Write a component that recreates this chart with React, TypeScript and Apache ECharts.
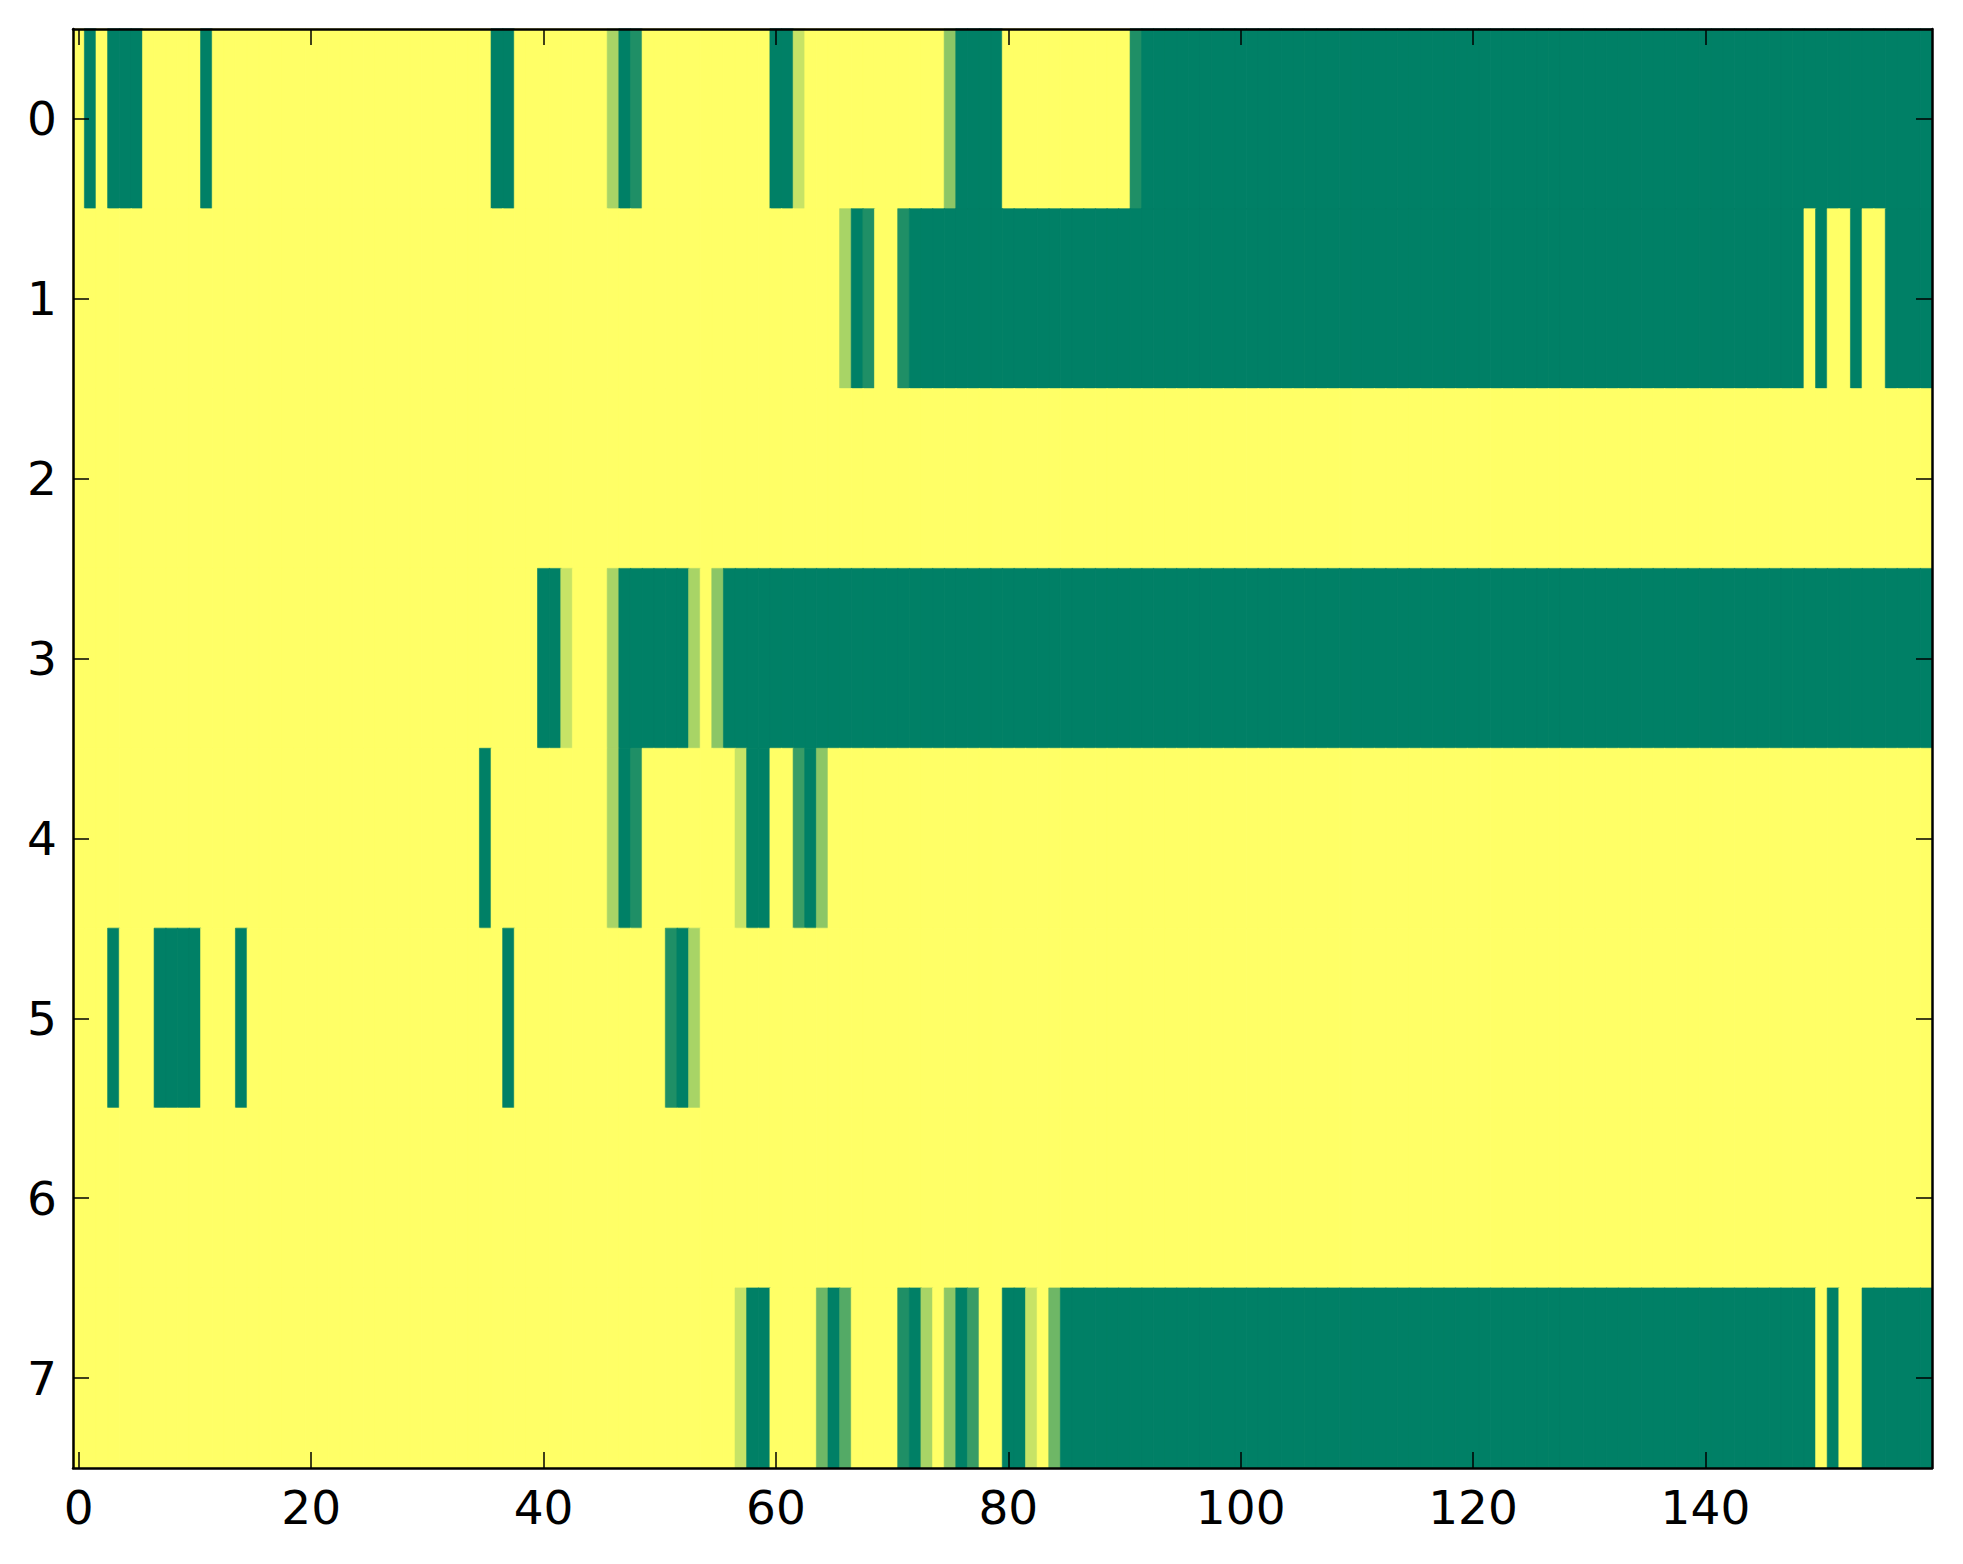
import React, { useEffect, useRef } from "react";
import * as echarts from "echarts";

// Row labels (y axis, top to bottom) and column count (x axis)
const rowLabels = ["0", "1", "2", "3", "4", "5", "6", "7"];
const columnLabels = Array.from({ length: 160 }, (_, i) => String(i));
const xTickEvery = 20;

// value 1 = yellow, 0 = dark green (summer colormap)
const Y20 = [1, 1, 1, 1, 1, 1, 1, 1, 1, 1, 1, 1, 1, 1, 1, 1, 1, 1, 1, 1];
const G20 = [0, 0, 0, 0, 0, 0, 0, 0, 0, 0, 0, 0, 0, 0, 0, 0, 0, 0, 0, 0];

const row0 = [
  1, 0, 1, 0, 0, 0, 1, 1, 1, 1, 1, 0, 1, 1, 1, 1, 1, 1, 1, 1,
  1, 1, 1, 1, 1, 1, 1, 1, 1, 1, 1, 1, 1, 1, 1, 1, 0, 0, 1, 1,
  1, 1, 1, 1, 1, 1, 0.66, 0, 0.12, 1, 1, 1, 1, 1, 1, 1, 1, 1, 1, 1,
  0, 0, 0.78, 1, 1, 1, 1, 1, 1, 1, 1, 1, 1, 1, 1, 0.55, 0, 0, 0, 0,
  1, 1, 1, 1, 1, 1, 1, 1, 1, 1, 1, 0.12, 0, 0, 0, 0, 0, 0, 0, 0,
  ...G20, ...G20, ...G20,
];
const row1 = [
  ...Y20, ...Y20, ...Y20,
  1, 1, 1, 1, 1, 1, 0.66, 0, 0.12, 1, 1, 0.12, 0, 0, 0, 0, 0, 0, 0, 0,
  ...G20, ...G20, ...G20,
  0, 0, 0, 0, 0, 0, 0, 0, 0, 1, 0, 1, 1, 0, 1, 1, 0, 0, 0, 0,
];
const row2 = [...Y20, ...Y20, ...Y20, ...Y20, ...Y20, ...Y20, ...Y20, ...Y20];
const row3 = [
  ...Y20, ...Y20,
  0, 0, 0.78, 1, 1, 1, 0.66, 0, 0, 0, 0, 0, 0, 0.66, 1, 0.55, 0, 0, 0, 0,
  ...G20, ...G20, ...G20, ...G20, ...G20,
];
const row4 = [
  ...Y20,
  1, 1, 1, 1, 1, 1, 1, 1, 1, 1, 1, 1, 1, 1, 1, 0, 1, 1, 1, 1,
  1, 1, 1, 1, 1, 1, 0.66, 0, 0.12, 1, 1, 1, 1, 1, 1, 1, 1, 0.78, 0, 0,
  1, 1, 0.22, 0, 0.55, 1, 1, 1, 1, 1, 1, 1, 1, 1, 1, 1, 1, 1, 1, 1,
  ...Y20, ...Y20, ...Y20, ...Y20,
];
const row5 = [
  1, 1, 1, 0, 1, 1, 1, 0, 0, 0, 0, 1, 1, 1, 0, 1, 1, 1, 1, 1,
  1, 1, 1, 1, 1, 1, 1, 1, 1, 1, 1, 1, 1, 1, 1, 1, 1, 0, 1, 1,
  1, 1, 1, 1, 1, 1, 1, 1, 1, 1, 1, 0.12, 0, 0.66, 1, 1, 1, 1, 1, 1,
  ...Y20, ...Y20, ...Y20, ...Y20, ...Y20,
];
const row6 = [...Y20, ...Y20, ...Y20, ...Y20, ...Y20, ...Y20, ...Y20, ...Y20];
const row7 = [
  ...Y20, ...Y20,
  1, 1, 1, 1, 1, 1, 1, 1, 1, 1, 1, 1, 1, 1, 1, 1, 1, 0.78, 0, 0,
  1, 1, 1, 1, 0.43, 0, 0.33, 1, 1, 1, 1, 0.12, 0, 0.66, 1, 0.55, 0, 0.22, 1, 1,
  0, 0, 0.78, 1, 0.43, 0, 0, 0, 0, 0, 0, 0, 0, 0, 0, 0, 0, 0, 0, 0,
  ...G20, ...G20,
  0, 0, 0, 0, 0, 0, 0, 0, 0, 0, 1, 0, 1, 1, 0, 0, 0, 0, 0, 0,
];
const rows = [row0, row1, row2, row3, row4, row5, row6, row7];

const LOW = [0, 128, 102];
const HIGH = [255, 255, 102];
const FONT = "DejaVu Sans";
const LABEL_SIZE = 47;

function colorOf(v: number) {
  const c = LOW.map((l, i) => Math.round(l + (HIGH[i] - l) * v));
  return `rgb(${c[0]},${c[1]},${c[2]})`;
}

export default function App() {
  const ref = useRef<HTMLDivElement>(null);
  useEffect(() => {
    if (!ref.current) return;
    const chart = echarts.init(ref.current, null, { renderer: "svg" });
    const data: any[] = [];
    rows.forEach((r, y) =>
      r.forEach((v, x) =>
        data.push({ value: [x, y, v], itemStyle: { borderColor: colorOf(v), borderWidth: 0.6 } })
      )
    );
    const tickInterval = (i: number) => i % xTickEvery === 0;
    const axisLine = { show: true, onZero: false, lineStyle: { color: "#000", width: 2.5 } };
    const tick = { show: true, inside: true, length: 16, alignWithLabel: true, lineStyle: { color: "#000", width: 1.5 } };
    chart.setOption({
      animation: false,
      backgroundColor: "#ffffff",
      grid: { left: 73, top: 29, right: 31, bottom: 96, containLabel: false },
      xAxis: [
        {
          type: "category", data: columnLabels, position: "bottom", z: 10,
          axisLine, axisTick: { ...tick, interval: tickInterval },
          axisLabel: { interval: tickInterval, color: "#000", fontFamily: FONT, fontSize: LABEL_SIZE, margin: 16 },
          splitLine: { show: false },
        },
        {
          type: "category", data: columnLabels, position: "top", z: 10,
          axisLine, axisTick: { ...tick, interval: tickInterval },
          axisLabel: { show: false }, splitLine: { show: false },
        },
      ],
      yAxis: [
        {
          type: "category", data: rowLabels, inverse: true, position: "left", z: 10,
          axisLine, axisTick: tick,
          axisLabel: { color: "#000", fontFamily: FONT, fontSize: LABEL_SIZE, margin: 16 },
          splitLine: { show: false },
        },
        {
          type: "category", data: rowLabels, inverse: true, position: "right", z: 10,
          axisLine, axisTick: tick, axisLabel: { show: false }, splitLine: { show: false },
        },
      ],
      visualMap: {
        show: false, type: "continuous", min: 0, max: 1, dimension: 2,
        inRange: { color: ["#008066", "#ffff66"] },
      },
      series: [
        {
          type: "heatmap", xAxisIndex: 0, yAxisIndex: 0, data, z: 1,
          emphasis: { disabled: true },
        },
      ],
    });
    return () => chart.dispose();
  }, []);
  return (
    <div
      ref={ref}
      style={{ position: "fixed", left: 0, top: 0, width: 1963, height: 1564, background: "#fff" }}
    />
  );
}
